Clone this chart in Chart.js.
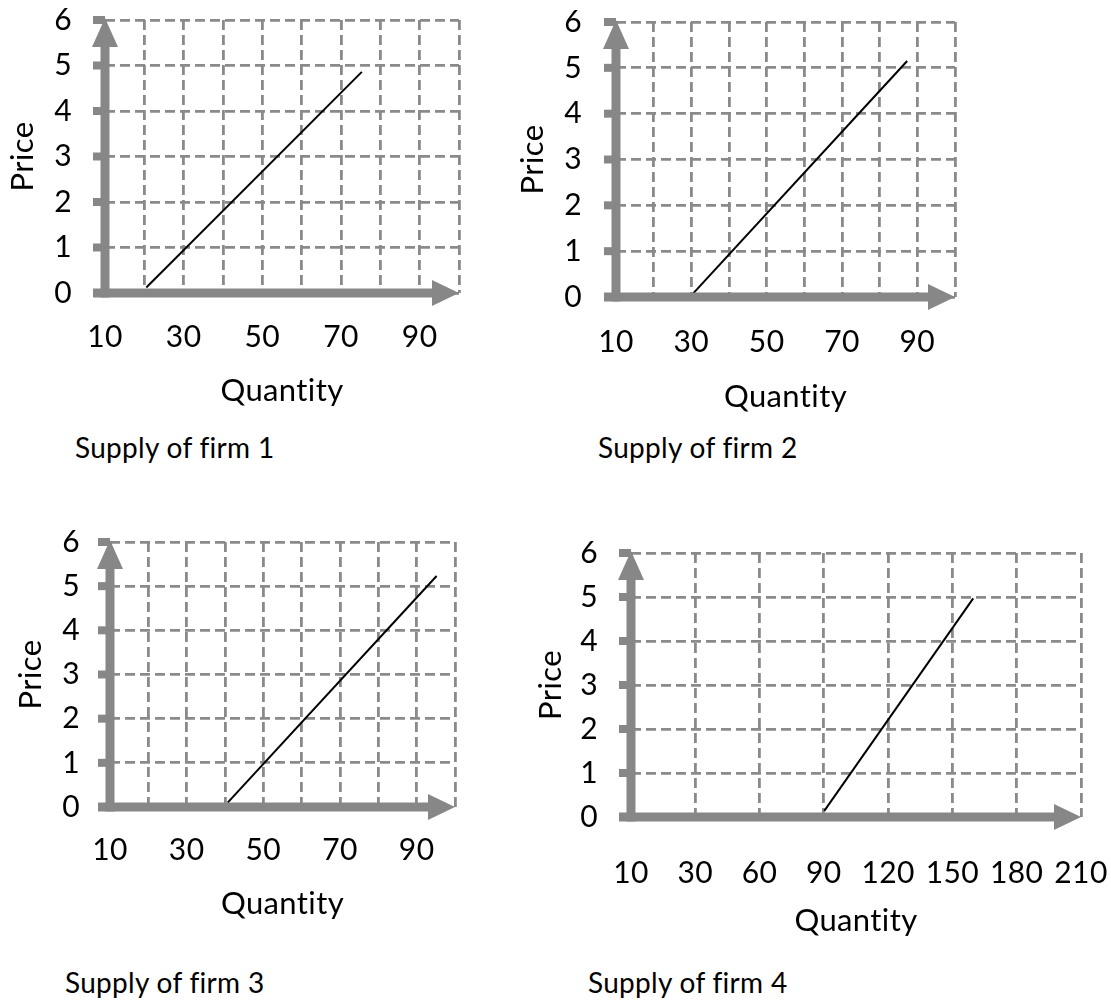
<!DOCTYPE html>
<html>
<head>
<meta charset="utf-8">
<script src="https://cdn.jsdelivr.net/npm/chart.js@4"></script>
<style>
  html, body { margin: 0; padding: 0; background: #fff; }
  body { width: 1111px; height: 1003px; position: relative; overflow: hidden; font-family: Lato, sans-serif; }
  .box { position: absolute; }
  .caption { position: absolute; font-size: 28px; line-height: 32px; color: #000; white-space: nowrap;
             font-variant-ligatures: none; letter-spacing: 0.3px; }
</style>
</head>
<body>
<div class="box" id="box-1"><canvas id="chart-1"></canvas></div>
<div class="box" id="box-2"><canvas id="chart-2"></canvas></div>
<div class="box" id="box-3"><canvas id="chart-3"></canvas></div>
<div class="box" id="box-4"><canvas id="chart-4"></canvas></div>
<div class="caption" id="caption-1"></div>
<div class="caption" id="caption-2"></div>
<div class="caption" id="caption-3"></div>
<div class="caption" id="caption-4"></div>
<script>
// tick labels
const priceTicks = [0, 1, 2, 3, 4, 5, 6];
const quantityTicks = [10, 30, 50, 70, 90];
const quantityTicksFirm4 = ['10', '30', '60', '90', '120', '150', '180', '210'];

// supply lines (start, end)
const firm1Quantity = [20.5, 75.3];
const firm1Price = [0.12, 4.86];
const firm2Quantity = [30.5, 87.3];
const firm2Price = [0.08, 5.15];
const firm3Quantity = [40.7, 95.2];
const firm3Price = [0.1, 5.23];
const firm4Quantity = [90.2, 159.7];
const firm4Price = [0.14, 4.97];

const captions = ['Supply of firm 1', 'Supply of firm 2', 'Supply of firm 3', 'Supply of firm 4'];

const AXIS_COLOR = '#878787';
const GRID_COLOR = '#8a8a8a';

// where each panel sits on the page
const layouts = [
    { left: 0, top: 0, width: 480, height: 420, yWidth: 105, xHeight: 127, padTop: 20, padRight: 21,
      yTickLen: 33, yTitlePad: 4, xTickLen: 26, xTitlePad: 10, capLeft: 75, capTop: 431 },
    { left: 500, top: 0, width: 480, height: 420, yWidth: 116, xHeight: 123, padTop: 22, padRight: 25,
      yTickLen: 34, yTitlePad: 14, xTickLen: 27, xTitlePad: 4, capLeft: 598, capTop: 431 },
    { left: 0, top: 510, width: 480, height: 430, yWidth: 110, xHeight: 133, padTop: 32, padRight: 25,
      yTickLen: 30, yTitlePad: 12, xTickLen: 25, xTitlePad: 17, capLeft: 65, capTop: 966 },
    { left: 520, top: 510, width: 591, height: 440, yWidth: 111, xHeight: 133, padTop: 43, padRight: 30,
      yTickLen: 33, yTitlePad: 12, xTickLen: 38, xTitlePad: 10, capLeft: 588, capTop: 966 }
];

Chart.defaults.font.family = 'Lato, sans-serif';
Chart.defaults.color = '#000';

const arrowAxes = {
    id: 'arrowAxes',
    beforeDraw(chart) {
        // keeps Lato from joining "ti" into a ligature
        chart.ctx.letterSpacing = '0.4px';
    },
    afterDraw(chart) {
        const { ctx, chartArea } = chart;
        const { left, right, top, bottom } = chartArea;
        const yScale = chart.scales.y;
        const head = 27;
        const half = 13;
        ctx.save();
        ctx.strokeStyle = AXIS_COLOR;
        ctx.fillStyle = AXIS_COLOR;

        // little square ticks on the price axis
        yScale.ticks.forEach(t => {
            const py = yScale.getPixelForValue(t.value);
            ctx.fillRect(left - 12, py - 4, 12, 8);
        });

        ctx.lineWidth = 9;
        ctx.beginPath();
        ctx.moveTo(left - 12, bottom);
        ctx.lineTo(right - head + 1, bottom);
        ctx.stroke();
        ctx.beginPath();
        ctx.moveTo(right, bottom);
        ctx.lineTo(right - head, bottom - half);
        ctx.lineTo(right - head, bottom + half);
        ctx.closePath();
        ctx.fill();

        ctx.beginPath();
        ctx.moveTo(left, bottom + 4.5);
        ctx.lineTo(left, top + head - 1);
        ctx.stroke();
        ctx.beginPath();
        ctx.moveTo(left, top - 2);
        ctx.lineTo(left - half, top + head);
        ctx.lineTo(left + half, top + head);
        ctx.closePath();
        ctx.fill();
        ctx.restore();
    }
};

function makeChart(index, quantities, prices, xScale) {
    const lay = layouts[index];
    const box = document.getElementById(`box-${index + 1}`);
    box.style.left = lay.left + 'px';
    box.style.top = lay.top + 'px';
    box.style.width = lay.width + 'px';
    box.style.height = lay.height + 'px';

    const caption = document.getElementById(`caption-${index + 1}`);
    caption.textContent = captions[index];
    caption.style.left = lay.capLeft + 'px';
    caption.style.top = lay.capTop + 'px';

    const points = quantities.map((q, i) => ({ x: q, y: prices[i] }));

    new Chart(document.getElementById(`chart-${index + 1}`), {
        type: 'scatter',
        data: {
            datasets: [{
                data: points,
                showLine: true,
                borderColor: '#000',
                borderWidth: 2,
                pointRadius: 0,
                pointHoverRadius: 0
            }]
        },
        options: {
            responsive: true,
            maintainAspectRatio: false,
            animation: false,
            events: [],
            layout: { padding: { left: 0, top: lay.padTop, right: lay.padRight, bottom: 0 } },
            plugins: {
                legend: { display: false },
                tooltip: { enabled: false }
            },
            scales: {
                x: {
                    type: 'linear',
                    min: xScale.min,
                    max: xScale.max,
                    afterFit: (scale) => { scale.height = lay.xHeight; },
                    grid: {
                        color: GRID_COLOR,
                        lineWidth: 2.8,
                        drawTicks: true,
                        tickLength: lay.xTickLen,
                        tickWidth: 0
                    },
                    border: { display: false, dash: [10, 5] },
                    ticks: {
                        stepSize: xScale.step,
                        autoSkip: false,
                        maxRotation: 0,
                        padding: 0,
                        font: { size: 30 },
                        callback: xScale.label
                    },
                    title: {
                        display: true,
                        text: 'Quantity',
                        font: { size: 31 },
                        padding: { top: 0, bottom: lay.xTitlePad }
                    }
                },
                y: {
                    type: 'linear',
                    min: priceTicks[0],
                    max: priceTicks[priceTicks.length - 1],
                    afterFit: (scale) => { scale.width = lay.yWidth; },
                    grid: {
                        color: GRID_COLOR,
                        lineWidth: 2.8,
                        drawTicks: true,
                        tickLength: lay.yTickLen,
                        tickWidth: 0
                    },
                    border: { display: false, dash: [10, 5] },
                    ticks: {
                        stepSize: 1,
                        padding: 0,
                        font: { size: 30 },
                        callback: (v) => priceTicks.includes(v) ? String(v) : ''
                    },
                    title: {
                        display: true,
                        text: 'Price',
                        font: { size: 31 },
                        padding: { top: lay.yTitlePad, bottom: 0 }
                    }
                }
            }
        },
        plugins: [arrowAxes]
    });
}

const smallScale = {
    min: 10, max: 100, step: 10,
    label: (v) => quantityTicks.includes(v) ? String(v) : ''
};
const firm4Scale = {
    min: 0, max: 210, step: 30,
    label: (v, i) => quantityTicksFirm4[i]
};

makeChart(0, firm1Quantity, firm1Price, smallScale);
makeChart(1, firm2Quantity, firm2Price, smallScale);
makeChart(2, firm3Quantity, firm3Price, smallScale);
makeChart(3, firm4Quantity, firm4Price, firm4Scale);
</script>
</body>
</html>
